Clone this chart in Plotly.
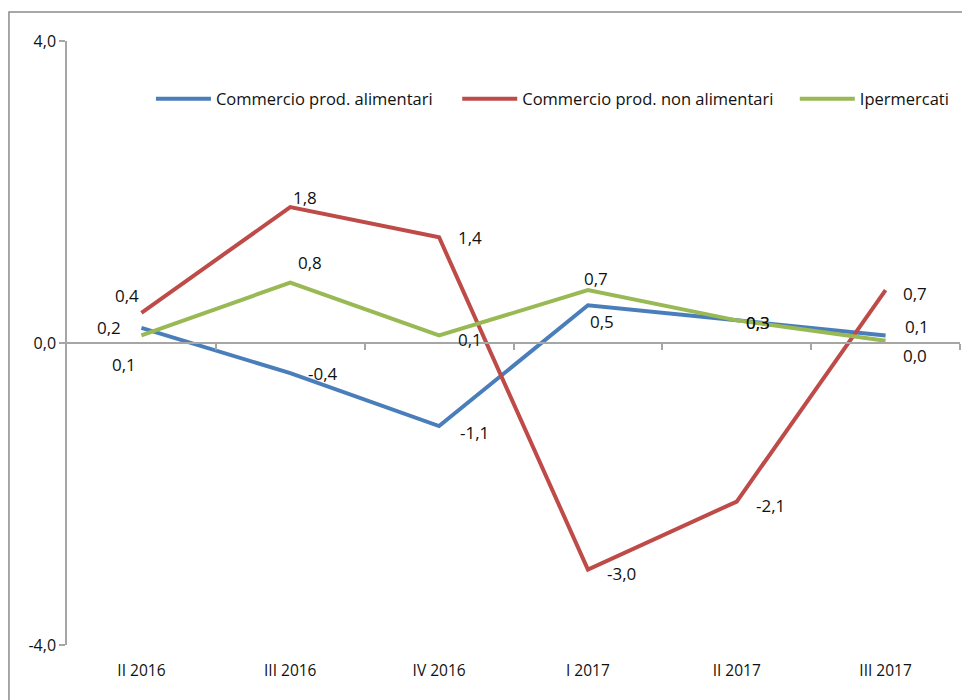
import plotly.graph_objects as go

categories = ["II 2016", "III 2016", "IV 2016", "I 2017", "II 2017", "III 2017"]
alimentari = [0.2, -0.4, -1.1, 0.5, 0.3, 0.1]
non_alimentari = [0.4, 1.8, 1.4, -3.0, -2.1, 0.7]
ipermercati = [0.1, 0.8, 0.1, 0.7, 0.3, 0.03]
series_names = ["Commercio prod. alimentari", "Commercio prod. non alimentari", "Ipermercati"]
y_ticks = [-4, 0, 4]
y_tick_labels = ["-4,0", "0,0", "4,0"]

colors = ["#4A7EBB", "#BE4B48", "#98B954"]
legend_ids = ["legend", "legend2", "legend3"]
legend_x = [0.094, 0.437, 0.815]
# pixel offsets of each data label from its point (xshift, yshift)
label_offsets = [
    [(-32, 0), (33, 0), (35, -6), (14, -16), (21, -2), (31, 9)],
    [(-14, 17), (15, 10), (31, 0), (34, -4), (34, -4), (29, -3)],
    [(-17, -29), (20, 20), (31, -4), (8, 12), (21, -2), (29, -15)],
]

FONT = "Open Sans, sans-serif"
TXT = "#111111"

fig = go.Figure()
all_series = [alimentari, non_alimentari, ipermercati]
for name, vals, col, lg in zip(series_names, all_series, colors, legend_ids):
    fig.add_trace(go.Scatter(
        x=categories, y=vals, name=name, mode="lines",
        line=dict(color=col, width=4),
        hoverinfo="skip", legend=lg,
    ))

annotations = []
for vals, offs in zip(all_series, label_offsets):
    for c, v, (dx, dy) in zip(categories, vals, offs):
        annotations.append(dict(
            x=c, y=v, xref="x", yref="y",
            text=f"{v:.1f}".replace(".", ","),
            showarrow=False, xshift=dx, yshift=dy,
            font=dict(family=FONT, size=17, color=TXT),
        ))

# empty trace carrying the category-boundary ticks on the zero line
fig.add_trace(go.Scatter(x=[0, 5], y=[None, None], xaxis="x2", showlegend=False, hoverinfo="skip"))

legend_style = dict(
    orientation="h", y=0.904, xanchor="left", yanchor="middle",
    font=dict(family=FONT, size=16.5, color=TXT),
    itemwidth=55, bgcolor="rgba(0,0,0,0)",
)

fig.update_layout(
    width=962, height=692,
    margin=dict(l=59, r=10, t=33, b=55),
    paper_bgcolor="white", plot_bgcolor="white",
    font=dict(family=FONT, size=16, color=TXT),
    showlegend=True,
    legend=dict(x=legend_x[0], **legend_style),
    legend2=dict(x=legend_x[1], **legend_style),
    legend3=dict(x=legend_x[2], **legend_style),
    xaxis=dict(
        type="category", range=[-0.5, 5.5], showgrid=False, zeroline=False,
        showline=False, ticks="", ticklabelstandoff=14,
        tickfont=dict(family=FONT, size=15.5, color=TXT),
    ),
    xaxis2=dict(
        overlaying="x", range=[-0.5, 5.5], anchor="free", position=0.5,
        side="bottom", showline=True, linecolor="#A6A6A6", linewidth=1.5,
        ticks="outside", ticklen=6, tickcolor="#A6A6A6", tickwidth=1.5,
        tickvals=[0.5, 1.5, 2.5, 3.5, 4.5, 5.5], showticklabels=False,
        showgrid=False, zeroline=False, domain=[0, 1],
    ),
    yaxis=dict(
        range=[-4, 4], tickvals=y_ticks, ticktext=y_tick_labels,
        showgrid=True, gridcolor="#A6A6A6", gridwidth=1.5,
        zeroline=False, showline=True, linecolor="#A6A6A6", linewidth=1.5,
        ticks="outside", ticklen=6, tickcolor="#A6A6A6", tickwidth=1.5,
        tickfont=dict(family=FONT, size=16, color=TXT),
    ),
    annotations=annotations,
    shapes=[dict(
        type="rect", xref="paper", yref="paper",
        x0=-0.065, x1=1.05, y0=-0.3, y1=1.048,
        line=dict(color="#8C8C8C", width=1.5), fillcolor="rgba(0,0,0,0)",
        layer="below",
    )],
)

fig.write_html("out.html")
